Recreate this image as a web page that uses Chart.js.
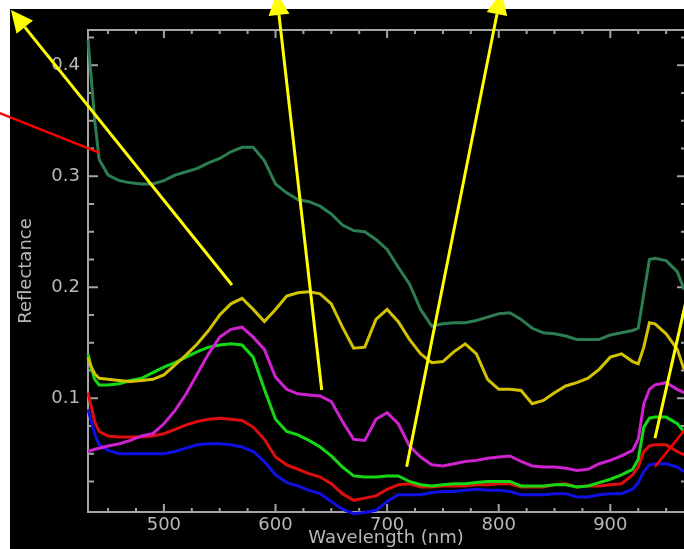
<!DOCTYPE html>
<html>
<head>
<meta charset="utf-8">
<script src="https://cdn.jsdelivr.net/npm/chart.js@4.4.1/dist/chart.umd.min.js"></script>
<style>
    html, body { margin: 0; padding: 0; background: #fff; }
    #wrap { width: 684px; height: 549px; }
</style>
</head>
<body>
<div id="wrap"><canvas id="spectraChart" width="684" height="549"></canvas></div>
<script>
const wavelengths = [
    432, 435, 438, 442, 450, 460, 470, 480, 490, 500, 510, 520, 530, 540, 550,
    560, 570, 580, 590, 600, 610, 620, 630, 640, 650, 660, 670, 680, 690, 700,
    710, 720, 730, 740, 750, 760, 770, 780, 790, 800, 810, 820, 830, 840, 850,
    860, 870, 880, 890, 900, 910, 920, 925, 930, 935, 940, 950, 960, 966,
];

const darkGreenSeries = [
    0.423, 0.387, 0.351, 0.315, 0.301, 0.296, 0.294, 0.293, 0.293, 0.296, 0.301, 0.304, 0.307, 0.312, 0.316,
    0.322, 0.326, 0.326, 0.314, 0.293, 0.285, 0.279, 0.277, 0.273, 0.266, 0.256, 0.251, 0.250, 0.243, 0.234,
    0.218, 0.203, 0.180, 0.165, 0.167, 0.168, 0.168, 0.170, 0.173, 0.176, 0.177, 0.171, 0.163, 0.159, 0.158,
    0.156, 0.153, 0.153, 0.153, 0.157, 0.159, 0.161, 0.163, 0.194, 0.225, 0.226, 0.224, 0.214, 0.198,
];

const yellowSeries = [
    0.137, 0.128, 0.122, 0.118, 0.117, 0.116, 0.115, 0.116, 0.117, 0.121, 0.130, 0.139, 0.149, 0.161, 0.175,
    0.185, 0.190, 0.180, 0.169, 0.180, 0.192, 0.195, 0.196, 0.194, 0.185, 0.164, 0.145, 0.146, 0.171, 0.180,
    0.169, 0.153, 0.140, 0.132, 0.133, 0.142, 0.149, 0.140, 0.117, 0.108, 0.108, 0.107, 0.095, 0.098, 0.105,
    0.111, 0.114, 0.118, 0.126, 0.137, 0.140, 0.133, 0.131, 0.146, 0.168, 0.167, 0.158, 0.144, 0.126,
];

const magentaSeries = [
    0.052, 0.053, 0.054, 0.055, 0.057, 0.059, 0.062, 0.066, 0.068, 0.077, 0.089, 0.104, 0.122, 0.140, 0.155,
    0.162, 0.164, 0.155, 0.144, 0.119, 0.108, 0.104, 0.103, 0.102, 0.097, 0.079, 0.063, 0.062, 0.081, 0.087,
    0.077, 0.057, 0.047, 0.040, 0.039, 0.041, 0.043, 0.044, 0.046, 0.047, 0.048, 0.043, 0.039, 0.038, 0.038,
    0.037, 0.035, 0.036, 0.041, 0.044, 0.048, 0.053, 0.063, 0.095, 0.108, 0.112, 0.114, 0.108, 0.105,
];

const greenSeries = [
    0.140, 0.127, 0.117, 0.112, 0.112, 0.113, 0.116, 0.118, 0.123, 0.128, 0.132, 0.137, 0.142, 0.146, 0.148,
    0.149, 0.148, 0.137, 0.108, 0.081, 0.070, 0.067, 0.062, 0.056, 0.048, 0.038, 0.030, 0.029, 0.029, 0.030,
    0.030, 0.025, 0.022, 0.021, 0.022, 0.023, 0.023, 0.024, 0.025, 0.025, 0.025, 0.021, 0.021, 0.021, 0.022,
    0.022, 0.020, 0.021, 0.024, 0.027, 0.031, 0.036, 0.045, 0.074, 0.082, 0.083, 0.083, 0.077, 0.070,
];

const redSeries = [
    0.105, 0.092, 0.079, 0.070, 0.066, 0.065, 0.065, 0.065, 0.066, 0.068, 0.072, 0.076, 0.079, 0.081, 0.082,
    0.081, 0.080, 0.074, 0.063, 0.047, 0.040, 0.036, 0.032, 0.029, 0.023, 0.014, 0.008, 0.010, 0.012, 0.018,
    0.022, 0.023, 0.020, 0.020, 0.021, 0.021, 0.021, 0.022, 0.022, 0.023, 0.023, 0.020, 0.020, 0.020, 0.022,
    0.023, 0.020, 0.021, 0.021, 0.022, 0.023, 0.031, 0.038, 0.052, 0.057, 0.058, 0.058, 0.052, 0.049,
];

const blueSeries = [
    0.090, 0.079, 0.068, 0.058, 0.053, 0.050, 0.050, 0.050, 0.050, 0.050, 0.052, 0.055, 0.058, 0.059, 0.059,
    0.058, 0.056, 0.052, 0.043, 0.031, 0.024, 0.021, 0.017, 0.014, 0.007, 0.000, -0.004, -0.003, -0.001, 0.007,
    0.013, 0.013, 0.013, 0.015, 0.016, 0.016, 0.017, 0.018, 0.017, 0.017, 0.016, 0.013, 0.013, 0.013, 0.014,
    0.014, 0.011, 0.011, 0.013, 0.014, 0.014, 0.018, 0.024, 0.034, 0.040, 0.041, 0.041, 0.038, 0.034,
];

const xLabelTicks = [500, 600, 700, 800, 900];
const yLabelTicks = [0.1, 0.2, 0.3, 0.4];

// pointer lines drawn over the plot, in (nm, reflectance)
const pointerLines = [
    { from: [561.0, 0.202], to: [363.0, 0.4497], color: "#ffff00", width: 3, head: true },
    { from: [641.4, 0.1074], to: [600.9, 0.465], color: "#ffff00", width: 3, head: true },
    { from: [717.5, 0.0383], to: [802.3, 0.4656], color: "#ffff00", width: 3, head: true },
    { from: [940.0, 0.0639], to: [978.2, 0.2335], color: "#ffff00", width: 3, head: false },
    { from: [344.2, 0.3603], to: [441.9, 0.3212], color: "#ff0000", width: 2.5, head: false },
    { from: [940.0, 0.0383], to: [980.3, 0.0885], color: "#ff0000", width: 2.5, head: false },
];

const axisColor = "#a4a4a4";
const textColor = "#b8b8b8";
const fontFamily = "'DejaVu Sans', sans-serif";

const backdrop = {
    id: "backdrop",
    beforeDraw(chart) {
        const { ctx, width, height } = chart;
        ctx.save();
        ctx.fillStyle = "#ffffff";
        ctx.fillRect(0, 0, width, height);
        ctx.fillStyle = "#000000";
        ctx.fillRect(10, 9, width - 10, height - 9);
        ctx.restore();
    },
};

const frame = {
    id: "frame",
    beforeDatasetsDraw(chart) {
        const { ctx, chartArea: a, scales: { x, y } } = chart;
        ctx.save();
        ctx.strokeStyle = axisColor;
        ctx.lineWidth = 2;
        ctx.beginPath();
        ctx.moveTo(a.right, a.top);
        ctx.lineTo(a.left, a.top);
        ctx.lineTo(a.left, a.bottom);
        ctx.lineTo(a.right, a.bottom);
        for (let v = 450; v <= x.max; v += 25) {
            const px = x.getPixelForValue(v);
            const len = v % 100 === 0 ? 8 : 4;
            ctx.moveTo(px, a.bottom);
            ctx.lineTo(px, a.bottom - len);
            ctx.moveTo(px, a.top);
            ctx.lineTo(px, a.top + len);
        }
        for (let i = 1; i * 0.025 <= y.max; i++) {
            const py = y.getPixelForValue(i * 0.025);
            const major = i % 4 === 0;
            ctx.moveTo(a.left, py);
            ctx.lineTo(a.left + (major ? 10 : 6), py);
            ctx.moveTo(a.right, py);
            ctx.lineTo(a.right - (major ? 7 : 3), py);
        }
        ctx.stroke();
        ctx.restore();
    },
};

const pointers = {
    id: "pointers",
    afterDraw(chart) {
        const { ctx, scales: { x, y } } = chart;
        ctx.save();
        pointerLines.forEach((p) => {
            const x1 = x.getPixelForValue(p.from[0]);
            const y1 = y.getPixelForValue(p.from[1]);
            const x2 = x.getPixelForValue(p.to[0]);
            const y2 = y.getPixelForValue(p.to[1]);
            const len = Math.hypot(x2 - x1, y2 - y1);
            const ux = (x2 - x1) / len;
            const uy = (y2 - y1) / len;
            const headLen = p.head ? 22 : 0;
            const bx = x2 - ux * headLen;
            const by = y2 - uy * headLen;
            ctx.strokeStyle = p.color;
            ctx.lineWidth = p.width;
            ctx.beginPath();
            ctx.moveTo(x1, y1);
            ctx.lineTo(bx, by);
            ctx.stroke();
            if (p.head) {
                ctx.fillStyle = p.color;
                ctx.beginPath();
                ctx.moveTo(x2, y2);
                ctx.lineTo(bx - uy * 10.5, by + ux * 10.5);
                ctx.lineTo(bx + uy * 10.5, by - ux * 10.5);
                ctx.closePath();
                ctx.fill();
            }
        });
        ctx.restore();
    },
};

function makeSeries(label, values, color) {
    return {
        label: label,
        data: wavelengths.map((w, i) => ({ x: w, y: values[i] })),
        borderColor: color,
        backgroundColor: color,
        borderWidth: 3,
        pointRadius: 0,
        tension: 0,
        clip: false,
    };
}

new Chart(document.getElementById("spectraChart"), {
    type: "line",
    data: {
        datasets: [
            makeSeries("dark green", darkGreenSeries, "#2c7d52"),
            makeSeries("yellow", yellowSeries, "#d2c200"),
            makeSeries("magenta", magentaSeries, "#cf22cf"),
            makeSeries("green", greenSeries, "#14d814"),
            makeSeries("red", redSeries, "#de0e0e"),
            makeSeries("blue", blueSeries, "#1010e2"),
        ],
    },
    options: {
        responsive: false,
        animation: false,
        layout: { padding: { left: 10, top: 30, right: 0, bottom: 0 } },
        plugins: { legend: { display: false }, tooltip: { enabled: false } },
        scales: {
            x: {
                type: "linear",
                min: 432,
                max: 966,
                afterBuildTicks: (s) => { s.ticks = xLabelTicks.map((v) => ({ value: v })); },
                afterFit: (s) => { s.height = 37; },
                grid: { display: false, drawTicks: false },
                border: { display: false },
                ticks: {
                    color: textColor,
                    font: { family: fontFamily, size: 18 },
                    padding: 3,
                    maxRotation: 0,
                    autoSkip: false,
                },
                title: {
                    display: true,
                    text: "Wavelength (nm)",
                    color: textColor,
                    font: { family: fontFamily, size: 18 },
                    padding: 0,
                },
            },
            y: {
                type: "linear",
                min: -0.0025,
                max: 0.4317,
                afterBuildTicks: (s) => { s.ticks = yLabelTicks.map((v) => ({ value: v })); },
                afterFit: (s) => { s.width = 78; },
                grid: { display: false, drawTicks: false },
                border: { display: false },
                ticks: {
                    color: textColor,
                    font: { family: fontFamily, size: 18 },
                    padding: 8,
                    callback: (v) => v.toFixed(1),
                },
                title: {
                    display: true,
                    text: "Reflectance",
                    color: textColor,
                    font: { family: fontFamily, size: 18 },
                    padding: { top: 6, bottom: 0 },
                },
            },
        },
    },
    plugins: [backdrop, frame, pointers],
});
</script>
</body>
</html>
